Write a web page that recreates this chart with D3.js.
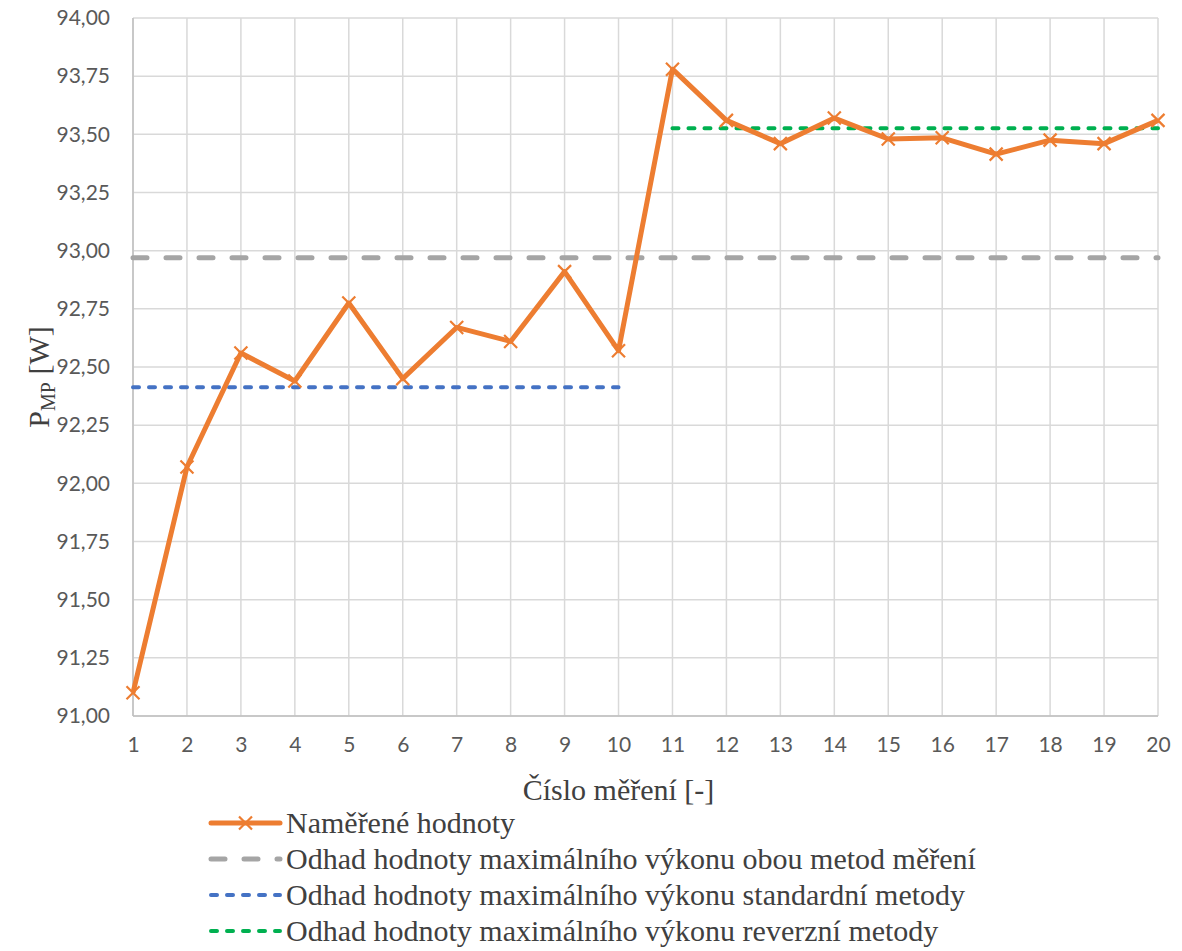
<!DOCTYPE html>
<html><head><meta charset="utf-8">
<script src="https://cdn.jsdelivr.net/npm/d3@7/dist/d3.min.js"></script>
<style>body{margin:0;background:#fff}svg{display:block}</style>
</head><body>
<svg id="c" width="1182" height="951"></svg>
<script>
const measurements = [1,2,3,4,5,6,7,8,9,10,11,12,13,14,15,16,17,18,19,20];
const measuredValues = [91.10,92.07,92.56,92.44,92.775,92.45,92.67,92.61,92.91,92.57,93.78,93.56,93.46,93.57,93.48,93.485,93.415,93.475,93.46,93.56];
const estimateBoth = 92.97;
const estimateStandard = 92.413;
const estimateReverse = 93.526;
const standardRange = [1,10];
const reverseRange = [11,20];
const yTicks = [91.00,91.25,91.50,91.75,92.00,92.25,92.50,92.75,93.00,93.25,93.50,93.75,94.00];
const legendLabels = ["Naměřené hodnoty","Odhad hodnoty maximálního výkonu obou metod měření","Odhad hodnoty maximálního výkonu standardní metody","Odhad hodnoty maximálního výkonu reverzní metody"];
const xTitle = "Číslo měření [-]";

const svg = d3.select("#c");
const L=133,R=1158,T=18,B=716;
const x = d3.scaleLinear().domain([1,20]).range([L,R]);
const y = d3.scaleLinear().domain([91,94]).range([B,T]);
const fmt = v => d3.format(".2f")(v).replace(".",",");
const serif = "Liberation Serif, DejaVu Serif, serif";

const g = svg.append("g");
g.selectAll(".hg").data(yTicks).enter().append("line")
 .attr("x1",L).attr("x2",R).attr("y1",d=>y(d)).attr("y2",d=>y(d))
 .attr("stroke","#d9d9d9").attr("stroke-width",1.5);
g.selectAll(".vg").data(measurements).enter().append("line")
 .attr("y1",T).attr("y2",B).attr("x1",d=>x(d)).attr("x2",d=>x(d))
 .attr("stroke","#d9d9d9").attr("stroke-width",1.5);
g.append("line").attr("x1",L).attr("x2",R).attr("y1",B).attr("y2",B).attr("stroke","#bfbfbf").attr("stroke-width",1.5);
g.append("line").attr("x1",L).attr("x2",L).attr("y1",T).attr("y2",B).attr("stroke","#bfbfbf").attr("stroke-width",1.5);

const yAxis = d3.axisLeft(y).tickValues(yTicks).tickFormat(fmt).tickSize(0).tickPadding(23);
const ya = svg.append("g").attr("transform",`translate(${L},0)`).call(yAxis);
ya.select(".domain").remove();
ya.attr("font-family",null).attr("font-size",null);
ya.selectAll("text").style("font-family","Lato, sans-serif").style("font-size","21px").attr("fill","#595959");
const xAxis = d3.axisBottom(x).tickValues(measurements).tickFormat(d3.format("d")).tickSize(0).tickPadding(21);
const xa = svg.append("g").attr("transform",`translate(0,${B})`).call(xAxis);
xa.select(".domain").remove();
xa.selectAll("text").style("font-family","Lato, sans-serif").style("font-size","21px").attr("fill","#595959");

const hl = (x1,x2,v,color,w,dash)=>svg.append("line").attr("x1",x(x1)).attr("x2",x(x2)).attr("y1",y(v)).attr("y2",y(v))
 .attr("stroke",color).attr("stroke-width",w).attr("stroke-dasharray",dash).attr("stroke-linecap","round");
hl(1,20,estimateBoth,"#a5a5a5",5,"14,19");
hl(standardRange[0],standardRange[1],estimateStandard,"#4472c4",4,"6,10");
hl(reverseRange[0],reverseRange[1],estimateReverse,"#00b050",4,"6,10");

const line = d3.line().x((d,i)=>x(measurements[i])).y(d=>y(d));
svg.append("path").datum(measuredValues).attr("d",line).attr("fill","none")
 .attr("stroke","#ed7d31").attr("stroke-width",5).attr("stroke-linejoin","round");
const s=6.5;
svg.append("g").selectAll("path").data(measuredValues).enter().append("path")
 .attr("d",(d,i)=>{const cx=x(measurements[i]),cy=y(d);return `M${cx-s},${cy-s}L${cx+s},${cy+s}M${cx-s},${cy+s}L${cx+s},${cy-s}`;})
 .attr("stroke","#ed7d31").attr("stroke-width",2.2).attr("fill","none");

svg.append("text").style("font-family",serif).attr("x",(L+R)/2 - 27).attr("y",800).attr("text-anchor","middle")
 .style("font-size","30px").attr("fill","#404040").text(xTitle);
const yt = svg.append("text").style("font-family",serif).attr("transform",`translate(49,${(T+B)/2+10}) rotate(-90)`).attr("text-anchor","middle")
 .style("font-size","30px").attr("fill","#404040");
yt.append("tspan").text("P");
yt.append("tspan").style("font-size","20px").attr("dy",6).text("MP");
yt.append("tspan").attr("dy",-6).text(" [W]");

const lg = svg.append("g");
const ly = [823,859,895,931];
const lx1=211, lx2=280;
const styles=[
 {c:"#ed7d31",w:5,d:null},
 {c:"#a5a5a5",w:5,d:"14,19"},
 {c:"#4472c4",w:4,d:"6,10"},
 {c:"#00b050",w:4,d:"6,10"}];
legendLabels.forEach((t,i)=>{
 const st=styles[i];
 lg.append("line").attr("x1",lx1).attr("x2",lx2).attr("y1",ly[i]).attr("y2",ly[i]).attr("stroke",st.c)
  .attr("stroke-width",st.w).attr("stroke-dasharray",st.d).attr("stroke-linecap","round");
 if(i===0){const cx=(lx1+lx2)/2,cy=ly[0];
  lg.append("path").attr("d",`M${cx-s},${cy-s}L${cx+s},${cy+s}M${cx-s},${cy+s}L${cx+s},${cy-s}`).attr("stroke",st.c).attr("stroke-width",2.2);}
 lg.append("text").style("font-family",serif).attr("x",286).attr("y",ly[i]+10).style("font-size","30px").attr("fill","#404040").text(t);
});
</script>
</body></html>
